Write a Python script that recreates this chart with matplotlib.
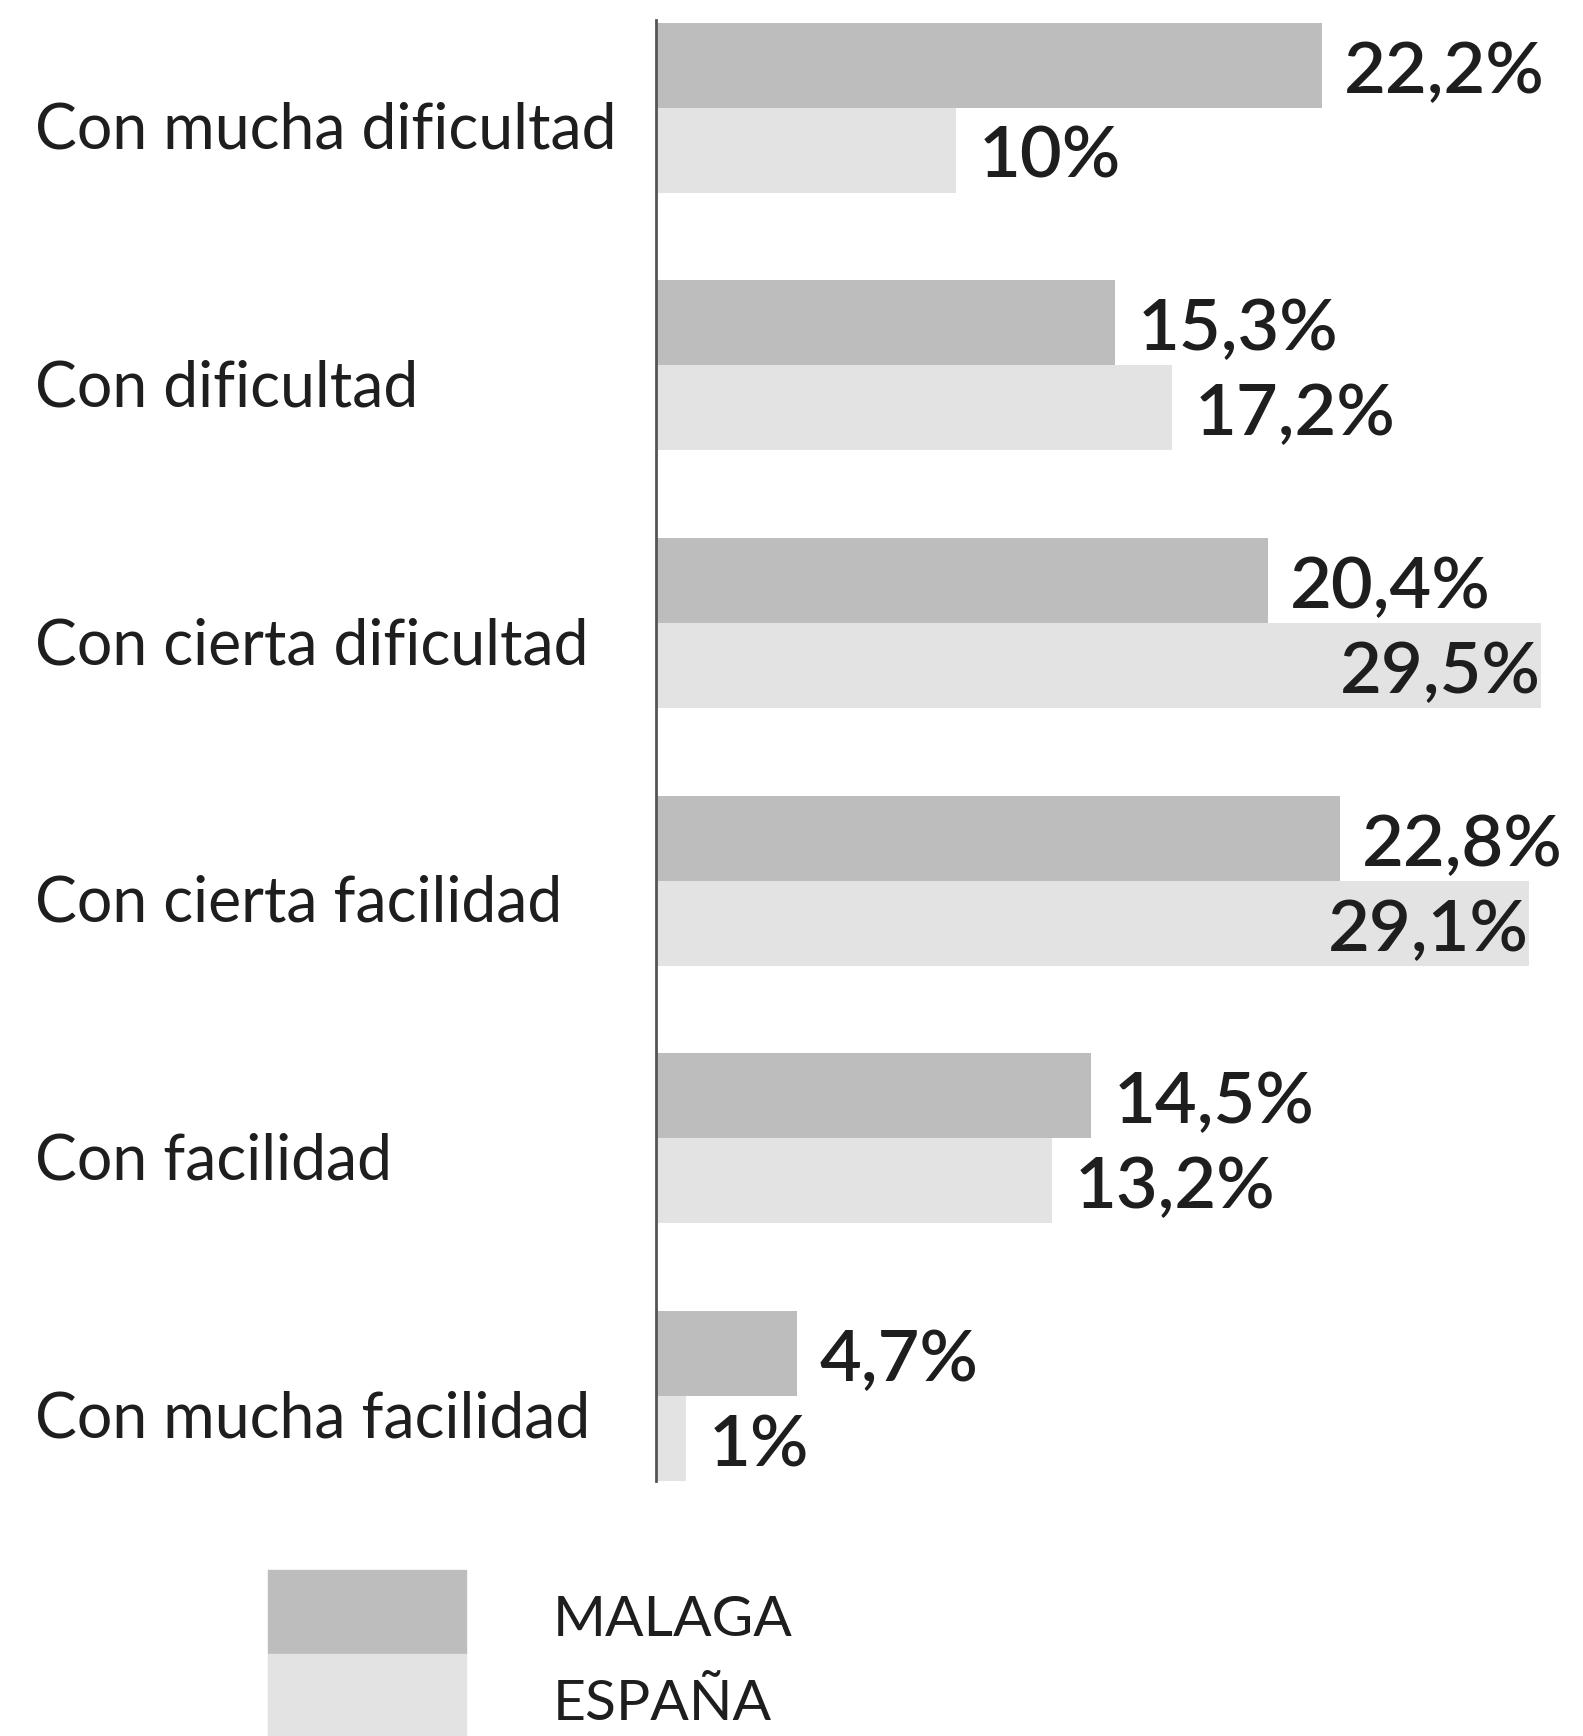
import matplotlib.pyplot as plt
from matplotlib.patches import Rectangle

# Data
categories = ['Con mucha dificultad', 'Con dificultad', 'Con cierta dificultad',
              'Con cierta facilidad', 'Con facilidad', 'Con mucha facilidad']
malaga = [22.2, 15.3, 20.4, 22.8, 14.5, 4.7]
espana = [10.0, 17.2, 29.5, 29.1, 13.2, 1.0]
series_names = ['MALAGA', 'ESPAÑA']

col_malaga = '#bdbdbd'
col_espana = '#e3e3e3'
txt_col = '#1e1e1e'

plt.rcParams['font.family'] = ['Lato', 'DejaVu Sans']

W, H = 1583, 1736
fig = plt.figure(figsize=(W / 100, H / 100), dpi=100)
ax = fig.add_axes([656 / W, 1 - 1481 / H, 1 - 656 / W, (1481 - 20) / H])

bh = 0.33
ypos = list(range(len(categories)))
ax.barh([y - bh / 2 for y in ypos], malaga, height=bh, color=col_malaga)
ax.barh([y + bh / 2 for y in ypos], espana, height=bh, color=col_espana)

ax.set_xlim(0, 30.9)
ax.set_ylim(len(categories) - 1 + bh, -bh - 0.01)
for s in ['top', 'right', 'bottom']:
    ax.spines[s].set_visible(False)
ax.spines['left'].set_color('#555555')
ax.spines['left'].set_linewidth(2)
ax.set_xticks([])
ax.set_yticks([])

# category labels on the left of the axis
for y, cat in zip(ypos, categories):
    ax.annotate(cat, xy=(0, y + 0.09), xycoords=('axes fraction', 'data'),
                xytext=(-(656 - 35) * 0.72, 0), textcoords='offset points',
                fontsize=45, color=txt_col, va='center', ha='left')

# value labels
def fmt(v):
    s = ('%.1f' % v).replace('.', ',')
    if s.endswith(',0'):
        s = s[:-2]
    return s + '%'

for y, m, e in zip(ypos, malaga, espana):
    for v, yy in ((m, y - bh / 2), (e, y + bh / 2)):
        if v > 25:
            ax.text(v, yy + 0.03, fmt(v), fontsize=52, fontweight='semibold',
                    color=txt_col, va='center', ha='right')
        else:
            ax.annotate(fmt(v), xy=(v, yy + 0.03), xytext=(16, 0),
                        textcoords='offset points', fontsize=52,
                        fontweight='semibold', color=txt_col,
                        va='center', ha='left')

# legend
for i, (name, c) in enumerate(zip(series_names, [col_malaga, col_espana])):
    top = 1570 + i * 84
    fig.patches.append(Rectangle((268 / W, 1 - (top + 84) / H), 198 / W, 84 / H,
                                 transform=fig.transFigure, color=c))
    fig.text(553 / W, 1 - (top + 50) / H, name, fontsize=41, color=txt_col,
             va='center', ha='left')

fig.savefig('out.png', dpi=100)
